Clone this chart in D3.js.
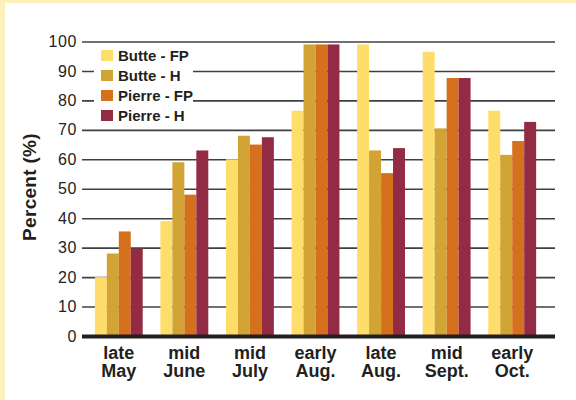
<!DOCTYPE html>
<html>
<head>
<meta charset="utf-8">
<script src="https://cdn.jsdelivr.net/npm/d3@7"></script>
<style>
  body { margin: 0; background: #fff; }
  svg { display: block; font-family: "Liberation Sans", Arial, Helvetica, sans-serif; }
</style>
</head>
<body>
<div class="chart"></div>
<script>
/* data */
const periods = [["late", "May"], ["mid", "June"], ["mid", "July"], ["early", "Aug."],
  ["late", "Aug."], ["mid", "Sept."], ["early", "Oct."]];
const series = ["Butte - FP", "Butte - H", "Pierre - FP", "Pierre - H"];
const butteFP  = [20, 39, 60, 76.5, 99, 96.5, 76.5];
const butteH   = [28, 59, 68, 99, 63, 70.5, 61.5];
const pierreFP = [35.5, 48, 65, 99, 55.3, 87.6, 66.2];
const pierreH  = [29.7, 63, 67.5, 99, 63.8, 87.6, 72.7];
const yTicks = [0, 10, 20, 30, 40, 50, 60, 70, 80, 90, 100];
const colors = ["#fedd6b", "#d1a435", "#d5701c", "#942b45"];

const values = [butteFP, butteH, pierreFP, pierreH];
const width = 576, height = 400;

const svg = d3.select(".chart").append("svg")
  .attr("width", width)
  .attr("height", height);

/* frame */
svg.append("rect").attr("width", width).attr("height", height).attr("fill", "#fef0bb");
svg.append("rect").attr("x", 5).attr("y", 3).attr("width", width - 5).attr("height", height - 3).attr("fill", "#fff");

/* scales */
const x = d3.scaleBand()
  .domain(d3.range(periods.length))
  .range([86, 545])
  .paddingInner(0.27)
  .paddingOuter(0.135);

const xs = d3.scaleBand()
  .domain(d3.range(series.length))
  .range([0, x.bandwidth()]);

const y = d3.scaleLinear()
  .domain([0, 100])
  .range([336, 41.5]);

/* grid + tick labels */
const yAxis = d3.axisLeft(y)
  .tickValues(yTicks)
  .tickSize(-(555 - 82))
  .tickPadding(5);

const gy = svg.append("g")
  .attr("transform", "translate(82,0)")
  .call(yAxis);
gy.select(".domain").remove();
gy.selectAll(".tick line")
  .attr("stroke", "#404040")
  .attr("stroke-width", 1.6);
gy.selectAll(".tick text")
  .attr("fill", "#222")
  .attr("font-size", 16)
  .attr("letter-spacing", "0.6px")
  .attr("font-family", "Liberation Sans, Arial, sans-serif");

/* legend background covers the grid */
const legend = svg.append("g");
legend.append("rect")
  .attr("x", 94).attr("y", 45)
  .attr("width", 99).attr("height", 76)
  .attr("fill", "#fff");

/* bars */
const groups = svg.append("g").selectAll("g")
  .data(periods)
  .join("g")
  .attr("transform", (d, i) => `translate(${x(i)},0)`);

groups.selectAll("rect")
  .data((d, i) => values.map((s, k) => ({ k: k, v: s[i] })))
  .join("rect")
  .attr("x", d => xs(d.k))
  .attr("width", xs.bandwidth())
  .attr("y", d => y(d.v))
  .attr("height", d => y(0) - y(d.v))
  .attr("fill", d => colors[d.k]);

/* baseline */
svg.append("line")
  .attr("x1", 82).attr("x2", 555)
  .attr("y1", y(0) + 0.5).attr("y2", y(0) + 0.5)
  .attr("stroke", "#231f20")
  .attr("stroke-width", 4);

/* x labels */
const xl = svg.append("g").selectAll("text")
  .data(periods)
  .join("text")
  .attr("x", (d, i) => x(i) + x.bandwidth() / 2)
  .attr("text-anchor", "middle")
  .attr("font-size", 18)
  .attr("font-weight", "bold")
  .attr("fill", "#231f20");
xl.append("tspan").attr("y", 359).text(d => d[0]);
xl.append("tspan").attr("y", 377).attr("x", (d, i) => x(i) + x.bandwidth() / 2).text(d => d[1]);

/* legend */
const li = legend.selectAll("g.item")
  .data(series)
  .join("g")
  .attr("class", "item")
  .attr("transform", (d, i) => `translate(101,${50 + i * 20})`);
li.append("rect")
  .attr("width", 12).attr("height", 11)
  .attr("fill", (d, i) => colors[i]);
li.append("text")
  .attr("x", 17).attr("y", 11)
  .attr("font-size", 15)
  .attr("font-weight", "bold")
  .attr("fill", "#231f20")
  .text(d => d);

/* y title */
svg.append("text")
  .attr("transform", "translate(36,187) rotate(-90)")
  .attr("text-anchor", "middle")
  .attr("font-size", 19)
  .attr("font-weight", "bold")
  .attr("letter-spacing", "0.3px")
  .attr("fill", "#231f20")
  .text("Percent (%)");
</script>
</body>
</html>
